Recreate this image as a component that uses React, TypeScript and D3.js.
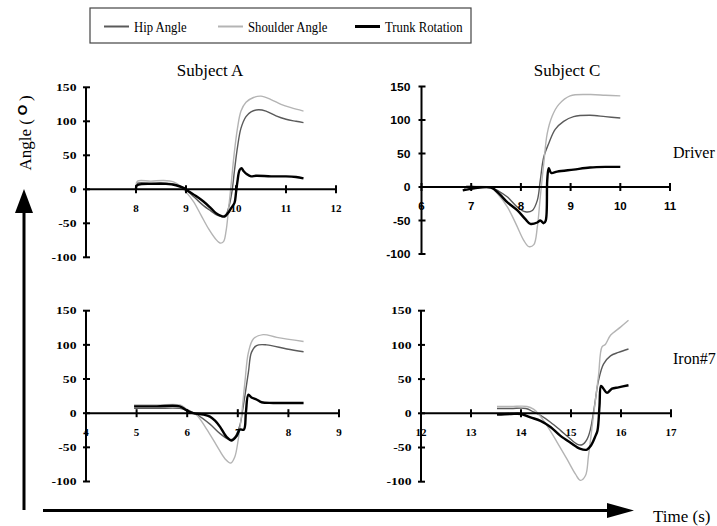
import React from 'react';
import * as d3 from 'd3';

type Pt = [number, number];

// ---------- DATA (time s, angle °) ----------
// Subject A — Driver
const aDriverHip: Pt[] = [[8.0,3],[8.03,9],[8.3,9],[8.6,9],[8.8,7],[8.95,2],[9.05,-4],[9.2,-14],[9.35,-24],[9.5,-32],[9.62,-38],[9.72,-40],[9.8,-37],[9.86,-25],[9.92,-3],[9.97,28],[10.03,62],[10.1,90],[10.2,107],[10.3,114],[10.45,117],[10.6,115],[10.8,108],[11.0,103],[11.2,100],[11.35,98]];
const aDriverShoulder: Pt[] = [[8.0,6],[8.03,12],[8.3,12],[8.55,13],[8.75,11],[8.9,4],[9.0,-4],[9.15,-18],[9.3,-38],[9.45,-58],[9.58,-72],[9.68,-79],[9.75,-77],[9.8,-62],[9.85,-30],[9.9,5],[9.96,50],[10.03,90],[10.1,115],[10.2,128],[10.35,135],[10.5,137],[10.7,132],[10.9,125],[11.1,120],[11.35,115]];
const aDriverTrunk: Pt[] = [[8.0,0],[8.01,5],[8.05,7],[8.3,8],[8.6,8],[8.8,6],[8.95,2],[9.05,-3],[9.2,-10],[9.35,-18],[9.5,-28],[9.6,-35],[9.7,-39],[9.77,-40],[9.84,-35],[9.9,-28],[9.97,-20],[10.0,-5],[10.03,12],[10.07,28],[10.11,31],[10.15,27],[10.22,22],[10.3,19],[10.4,20],[10.7,19],[11.0,19],[11.2,18],[11.35,16]];

// Subject C — Driver
const cDriverHip: Pt[] = [[6.86,-2],[7.0,2],[7.06,0],[7.4,-1],[7.55,-6],[7.73,-15],[7.93,-30],[8.09,-37],[8.23,-35],[8.33,-20],[8.39,10],[8.46,45],[8.56,65],[8.69,86],[8.86,98],[9.06,105],[9.39,107],[9.7,105],[10.0,103]];
const cDriverShoulder: Pt[] = [[6.9,2],[7.1,1],[7.4,-1],[7.53,-10],[7.73,-30],[7.9,-55],[8.06,-80],[8.16,-89],[8.26,-86],[8.33,-60],[8.39,-15],[8.46,35],[8.53,80],[8.63,106],[8.76,123],[8.99,136],[9.39,138],[9.7,137],[10.0,136]];
const cDriverTrunk: Pt[] = [[6.83,-5],[7.06,-2],[7.4,-1],[7.56,-10],[7.73,-23],[7.93,-35],[8.09,-48],[8.19,-55],[8.33,-53],[8.39,-50],[8.46,-54],[8.5,-50],[8.53,10],[8.56,28],[8.61,21],[8.73,23],[9.06,26],[9.39,29],[9.7,30],[10.0,30]];

// Subject A — Iron#7
const aIronHip: Pt[] = [[4.95,7],[5.4,7],[5.85,7],[5.99,4],[6.19,-2],[6.45,-16],[6.65,-30],[6.85,-39],[6.94,-35],[7.04,-18],[7.11,11],[7.21,60],[7.27,89],[7.37,99],[7.57,100],[7.97,94],[8.3,90]];
const aIronShoulder: Pt[] = [[4.95,12],[5.4,12],[5.86,12],[5.99,6],[6.19,-3],[6.38,-23],[6.58,-47],[6.75,-67],[6.86,-73],[6.94,-64],[7.01,-38],[7.08,1],[7.14,45],[7.21,89],[7.31,109],[7.5,115],[7.77,111],[8.3,105]];
const aIronTrunk: Pt[] = [[4.95,10],[5.4,10],[5.85,10],[5.99,4],[6.12,0],[6.32,-2],[6.45,-5],[6.55,-11],[6.65,-20],[6.78,-35],[6.88,-40],[6.98,-33],[7.04,-24],[7.12,-24],[7.16,1],[7.21,27],[7.27,23],[7.37,20],[7.47,16],[7.7,15],[8.3,15]];

// Subject C — Iron#7
const cIronHip: Pt[] = [[13.52,7],[13.8,7],[14.1,7],[14.25,2],[14.39,-3],[14.59,-13],[14.79,-25],[14.95,-35],[15.12,-45],[15.22,-46],[15.32,-38],[15.39,-23],[15.47,11],[15.55,48],[15.65,72],[15.79,84],[15.95,89],[16.15,94]];
const cIronShoulder: Pt[] = [[13.52,10],[13.8,10],[14.12,10],[14.25,6],[14.35,-1],[14.52,-18],[14.72,-42],[14.92,-67],[15.09,-89],[15.19,-98],[15.29,-91],[15.35,-62],[15.45,-3],[15.55,55],[15.62,97],[15.69,101],[15.79,114],[15.99,126],[16.15,136]];
const cIronTrunk: Pt[] = [[13.52,-2],[13.8,-1],[14.0,-1],[14.19,-6],[14.39,-11],[14.59,-20],[14.79,-33],[14.99,-43],[15.19,-52],[15.32,-53],[15.4,-47],[15.49,-33],[15.53,-25],[15.57,11],[15.6,40],[15.65,36],[15.72,30],[15.82,36],[15.95,38],[16.15,41]];

const yTickValues = [150, 100, 50, 0, -50, -100];
const xTicksADriver = [8, 9, 10, 11, 12];
const xTicksCDriver = [6, 7, 8, 9, 10, 11];
const xTicksAIron = [4, 5, 6, 7, 8, 9];
const xTicksCIron = [12, 13, 14, 15, 16, 17];

const seriesNames = ['Hip Angle', 'Shoulder Angle', 'Trunk Rotation'];
const subjectTitles = ['Subject A', 'Subject C'];
const clubNames = ['Driver', 'Iron#7'];

// ---------- STYLE ----------
const seriesColors = ['#5a5a5a', '#b4b4b4', '#000000'];
const seriesWidths = [1.4, 1.4, 2.4];
const SERIF = '"Liberation Serif", "Times New Roman", serif';
const SANS = '"Liberation Sans", Arial, sans-serif';

type PanelProps = {
  xDomain: [number, number];
  xRange: [number, number];
  yRange: [number, number];
  xTicks: number[];
  series: Pt[][];
  sans?: boolean;
};

function Panel({ xDomain, xRange, yRange, xTicks, series, sans }: PanelProps) {
  const x = d3.scaleLinear().domain(xDomain).range(xRange);
  const y = d3.scaleLinear().domain([-100, 150]).range(yRange);
  const line = d3
    .line<Pt>()
    .x((d) => x(d[0]))
    .y((d) => y(d[1]))
    .curve(d3.curveCatmullRom.alpha(0.5));
  const ax = x(xDomain[0]);
  const y0 = y(0);
  const font = sans ? SANS : SERIF;
  const xfs = sans ? 11.5 : 11;
  const yfs = sans ? 11.5 : 10.5;
  const ysx = sans ? 1.05 : 1.3;
  const gap = sans ? 11 : 9.5;
  return (
    <g>
      {series.map((s, i) => (
        <path key={i} d={line(s) || ''} fill="none" stroke={seriesColors[i]} strokeWidth={seriesWidths[i]} strokeLinejoin="round" />
      ))}
      {/* x axis */}
      <line x1={ax} x2={x(xDomain[1])} y1={y0} y2={y0} stroke="#000" strokeWidth={2} />
      {xTicks.map((t) => (
        <g key={t}>
          <line x1={x(t)} x2={x(t)} y1={y0 - 4} y2={y0 + 4} stroke="#000" strokeWidth={2} />
          <text x={x(t)} y={y0 + 22.5} textAnchor="middle" fontFamily={font} fontWeight="bold" fontSize={xfs} fill="#000">
            {t}
          </text>
        </g>
      ))}
      {/* y axis */}
      <line x1={ax} x2={ax} y1={y(150)} y2={y(-100)} stroke="#000" strokeWidth={2} />
      {yTickValues.map((v) => (
        <g key={v}>
          <line x1={ax - 3} x2={ax + 4} y1={y(v)} y2={y(v)} stroke="#000" strokeWidth={2} />
          <text transform={`translate(${ax - gap},${y(v)}) scale(${ysx},1)`} dy="0.35em" textAnchor="end" fontFamily={font} fontWeight="bold" fontSize={yfs} fill="#000">
            {v}
          </text>
        </g>
      ))}
    </g>
  );
}

export default function App() {
  return (
    <svg width={717} height={526} style={{ position: 'absolute', left: 0, top: 0, background: '#fff' }}>
      <rect x={0} y={0} width={717} height={526} fill="#fff" />
      {/* legend */}
      <rect x={90} y={8} width={381} height={35} fill="#fff" stroke="#444" strokeWidth={1.2} />
      {seriesNames.map((n, i) => {
        const lx = [104, 218, 355][i];
        return (
          <g key={n}>
            <line x1={lx} x2={lx + 25} y1={26.5} y2={26.5} stroke={seriesColors[i]} strokeWidth={seriesWidths[i] + 0.6} />
            <text transform={`translate(${lx + 30},32) scale(0.82,1)`} fontFamily={SERIF} fontSize={15.5} fill="#000">
              {n}
            </text>
          </g>
        );
      })}

      {/* titles */}
      <text x={210} y={76} textAnchor="middle" fontFamily={SERIF} fontSize={17} fill="#000">{subjectTitles[0]}</text>
      <text x={567} y={76} textAnchor="middle" fontFamily={SERIF} fontSize={17} fill="#000">{subjectTitles[1]}</text>
      <text x={673} y={158} fontFamily={SERIF} fontSize={16} fill="#000">{clubNames[0]}</text>
      <text x={673} y={364} fontFamily={SERIF} fontSize={16} fill="#000">{clubNames[1]}</text>

      <Panel xDomain={[7, 12]} xRange={[86, 336]} yRange={[257.3, 87.3]} xTicks={xTicksADriver} series={[aDriverHip, aDriverShoulder, aDriverTrunk]} />
      <Panel xDomain={[6, 11]} xRange={[421.5, 670]} yRange={[254, 86.5]} xTicks={xTicksCDriver} series={[cDriverHip, cDriverShoulder, cDriverTrunk]} sans />
      <Panel xDomain={[4, 9]} xRange={[86, 339]} yRange={[481.5, 310.7]} xTicks={xTicksAIron} series={[aIronHip, aIronShoulder, aIronTrunk]} />
      <Panel xDomain={[12, 17]} xRange={[421, 671]} yRange={[481.7, 310.7]} xTicks={xTicksCIron} series={[cIronHip, cIronShoulder, cIronTrunk]} />

      {/* y label */}
      <text transform="translate(31,133) rotate(-90)" textAnchor="middle" fontFamily={SERIF} fontSize={17} fill="#000">
        Angle (<tspan fontWeight="bold" fontFamily={SANS} fontSize={13.5} dy={-4}> O </tspan><tspan dy={4}>)</tspan>
      </text>

      {/* big arrows */}
      <line x1={24} x2={24} y1={510} y2={205} stroke="#000" strokeWidth={3} />
      <polygon points="24,189 15,213 33,213" fill="#000" />
      <line x1={43} x2={612} y1={510.5} y2={510.5} stroke="#000" strokeWidth={3} />
      <polygon points="634,510.5 607,503 607,518" fill="#000" />
      <text x={653} y={522} fontFamily={SERIF} fontSize={17} fill="#000">Time (s)</text>
    </svg>
  );
}
